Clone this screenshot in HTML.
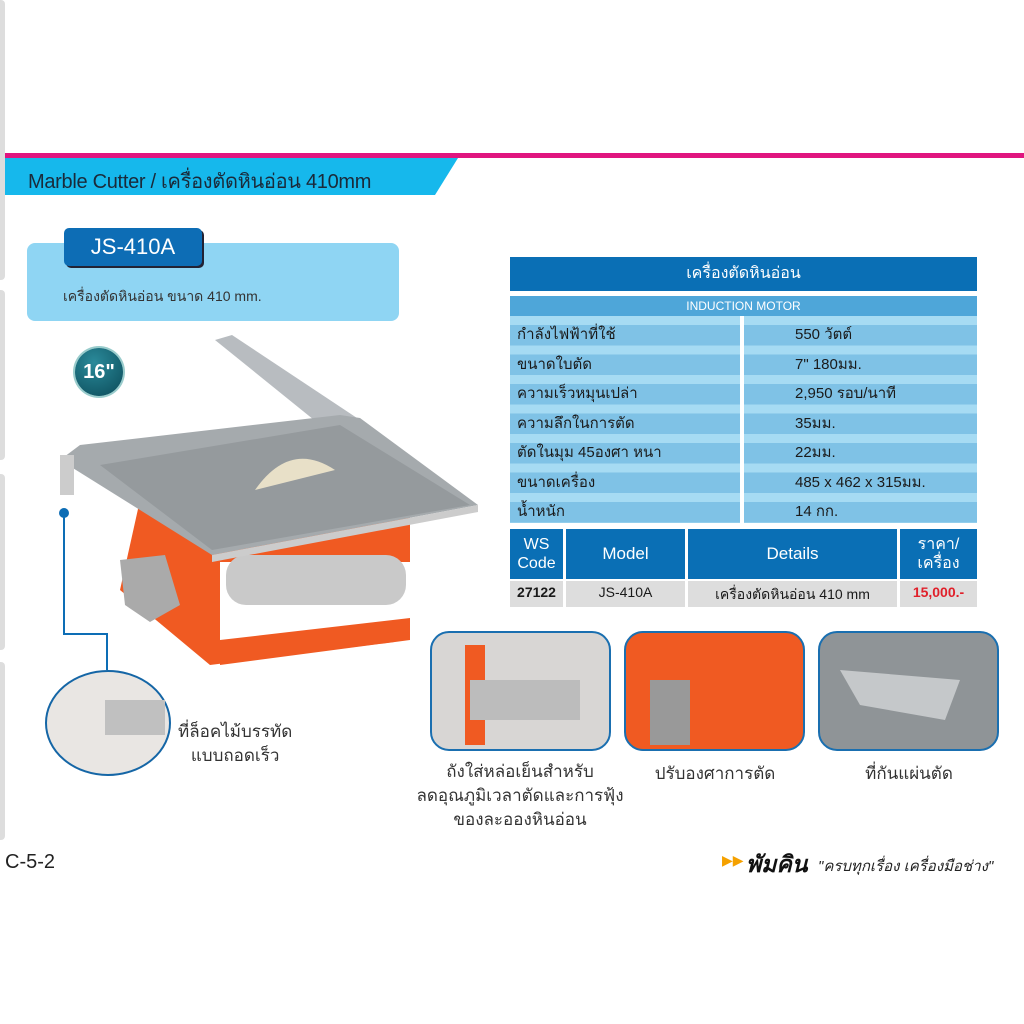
<!DOCTYPE html>
<html><head><meta charset="utf-8"><style>
*{margin:0;padding:0;box-sizing:border-box}
body{width:1024px;height:1024px;background:#fff;position:relative;overflow:hidden;font-family:"Liberation Sans","DejaVu Sans",sans-serif;color:#222}
.a{position:absolute}
.tbl div{position:absolute;font-size:15px;color:#1a1a1a}
</style></head><body>
<div class="a" style="left:0;top:0;width:5px;height:280px;background:#ddd;border-radius:0 4px 4px 0"></div>
<div class="a" style="left:0;top:290px;width:5px;height:170px;background:#ddd;border-radius:0 4px 4px 0"></div>
<div class="a" style="left:0;top:474px;width:5px;height:176px;background:#ddd;border-radius:0 4px 4px 0"></div>
<div class="a" style="left:0;top:662px;width:5px;height:178px;background:#ddd;border-radius:0 4px 4px 0"></div>
<div class="a" style="left:5px;top:153px;width:1019px;height:5px;background:#e0157f"></div>
<svg class="a" style="left:5px;top:158px" width="460" height="37"><polygon points="0,0 453,0 430,37 0,37" fill="#16b8ec"/></svg>
<div class="a" style="left:28px;top:165px;font-size:20px;color:#1a2a3a;letter-spacing:-0.3px">Marble Cutter / เครื่องตัดหินอ่อน 410mm</div>
<div class="a" style="left:27px;top:243px;width:372px;height:78px;background:#8fd5f3;border-radius:8px"></div>
<div class="a" style="left:64px;top:228px;width:138px;height:38px;background:#0d6db5;border-radius:5px;box-shadow:2px 2px 0 #223;color:#fff;font-size:22px;text-align:center;line-height:38px">JS-410A</div>
<div class="a" style="left:63px;top:286px;font-size:14px;color:#333">เครื่องตัดหินอ่อน ขนาด 410 mm.</div>
<div class="a" style="left:75px;top:348px;width:48px;height:48px;border-radius:50%;background:radial-gradient(circle at 40% 30%,#2a8a9a,#0b4a58);box-shadow:0 0 0 2px #9cc;color:#fff;font-weight:bold;font-size:20px;text-align:center;line-height:48px">16"</div>
<svg class="a" style="left:0;top:0" width="1024" height="1024">
<polygon points="215,340 232,335 360,420 345,445" fill="#b8bcc0"/>
<polygon points="120,590 140,500 410,510 410,640 210,665" fill="#f05a22"/>
<rect x="220" y="562" width="190" height="80" fill="#fff"/>
<polygon points="220,640 410,618 410,640 220,665" fill="#f05a22"/>
<rect x="226" y="555" width="180" height="50" rx="20" fill="#c9c9c9"/>
<polygon points="60,460 80,445 340,415 360,418 478,505 212,555" fill="#a5aaad"/>
<polygon points="100,465 340,425 470,505 212,550" fill="#959a9d"/>
<polygon points="212,555 478,505 478,512 212,562" fill="#ccc"/>
<path d="M255,490 Q290,440 335,470 Z" fill="#e8e0c8"/>
<rect x="60" y="455" width="14" height="40" fill="#ccc"/>
<polygon points="120,560 165,555 180,605 150,622 125,605" fill="#aaa"/>
<circle cx="64" cy="513" r="5" fill="#0d6db5"/>
<polyline points="64,513 64,634 107,634 107,670" fill="none" stroke="#0d6db5" stroke-width="2"/>
<ellipse cx="108" cy="723" rx="62" ry="52" fill="#e9e6e3" stroke="#1566a6" stroke-width="2"/>
<rect x="105" y="700" width="60" height="35" fill="#c0c0c0"/>
<rect x="431" y="632" width="179" height="118" rx="18" fill="#d8d6d4" stroke="#1a6fb0" stroke-width="2"/>
<rect x="465" y="645" width="20" height="100" fill="#f05a22"/>
<rect x="470" y="680" width="110" height="40" fill="#bcbcbc"/>
<rect x="625" y="632" width="179" height="118" rx="18" fill="#f05a22" stroke="#1a6fb0" stroke-width="2"/>
<rect x="650" y="680" width="40" height="65" fill="#999"/>
<rect x="819" y="632" width="179" height="118" rx="18" fill="#8f9497" stroke="#1a6fb0" stroke-width="2"/>
<polygon points="840,670 960,680 945,720 860,705" fill="#c5c8ca"/>
</svg>
<div class="a" style="left:178px;top:720px;font-size:17px;line-height:24px;text-align:center;color:#333">ที่ล็อคไม้บรรทัด<br>แบบถอดเร็ว</div>
<div class="a" style="left:395px;top:760px;width:250px;font-size:17px;line-height:24px;text-align:center;color:#333">ถังใส่หล่อเย็นสำหรับ<br>ลดอุณภูมิเวลาตัดและการฟุ้ง<br>ของละอองหินอ่อน</div>
<div class="a" style="left:625px;top:760px;width:180px;font-size:17px;text-align:center;color:#333">ปรับองศาการตัด</div>
<div class="a" style="left:819px;top:760px;width:180px;font-size:17px;text-align:center;color:#333">ที่กันแผ่นตัด</div>
<div class="tbl">
<div style="left:510px;top:257px;width:467px;height:34px;background:#0a6fb5;color:#fff;text-align:center;line-height:34px;font-size:16px">เครื่องตัดหินอ่อน</div>
<div style="left:510px;top:296px;width:467px;height:20px;background:#4ea6d9;color:#fff;text-align:center;line-height:20px;font-size:12px">INDUCTION MOTOR</div>
<div style="left:510px;top:316px;width:467px;height:207px;background:repeating-linear-gradient(#a6dbf3 0 9px,#7fc2e6 9px 29.5px)"></div>
<div style="left:740px;top:316px;width:4px;height:207px;background:#fff"></div>
<div style="left:517px;top:320px;line-height:29.5px">กำลังไฟฟ้าที่ใช้<br>ขนาดใบตัด<br>ความเร็วหมุนเปล่า<br>ความลึกในการตัด<br>ตัดในมุม 45องศา หนา<br>ขนาดเครื่อง<br>น้ำหนัก</div>
<div style="left:795px;top:320px;line-height:29.5px">550 วัตต์<br>7" 180มม.<br>2,950 รอบ/นาที<br>35มม.<br>22มม.<br>485 x 462 x 315มม.<br>14 กก.</div>
<div style="left:510px;top:529px;width:53px;height:50px;background:#0a6fb5;color:#fff;text-align:center;font-size:16px;line-height:19px;padding-top:6px">WS<br>Code</div>
<div style="left:566px;top:529px;width:119px;height:50px;background:#0a6fb5;color:#fff;text-align:center;font-size:17px;line-height:50px">Model</div>
<div style="left:688px;top:529px;width:209px;height:50px;background:#0a6fb5;color:#fff;text-align:center;font-size:17px;line-height:50px">Details</div>
<div style="left:900px;top:529px;width:77px;height:50px;background:#0a6fb5;color:#fff;text-align:center;font-size:16px;line-height:19px;padding-top:6px">ราคา/<br>เครื่อง</div>
<div style="left:510px;top:581px;width:467px;height:26px;background:#ddd"></div>
<div style="left:563px;top:581px;width:3px;height:26px;background:#fff"></div>
<div style="left:685px;top:581px;width:3px;height:26px;background:#fff"></div>
<div style="left:897px;top:581px;width:3px;height:26px;background:#fff"></div>
<div style="left:510px;top:584px;width:53px;text-align:center;font-weight:bold;font-size:14px">27122</div>
<div style="left:566px;top:584px;width:119px;text-align:center;font-size:14px">JS-410A</div>
<div style="left:688px;top:584px;width:209px;text-align:center;font-size:14px">เครื่องตัดหินอ่อน 410 mm</div>
<div style="left:900px;top:584px;width:77px;text-align:center;font-size:14px;font-weight:bold;color:#e0202a">15,000.-</div>
</div>
<div class="a" style="left:5px;top:851px;font-size:20px;color:#222">C-5-2</div>
<div class="a" style="left:722px;top:852px;font-size:14px;color:#f5a100">▶▶</div>
<div class="a" style="left:746px;top:847px;font-size:23px;font-weight:bold;font-style:italic;color:#111">พัมคิน</div>
<div class="a" style="left:818px;top:854px;font-size:15px;font-style:italic;color:#222">"ครบทุกเรื่อง เครื่องมือช่าง"</div>
</body></html>
